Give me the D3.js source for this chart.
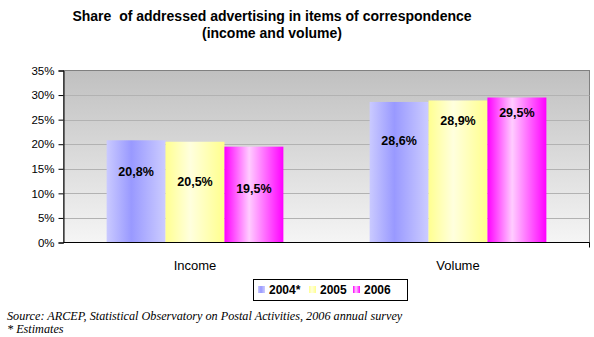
<!DOCTYPE html>
<html><head><meta charset="utf-8">
<script src="https://cdn.jsdelivr.net/npm/d3@7"></script>
<style>body{margin:0;background:#fff}svg{display:block}</style>
</head><body>
<svg id="c" width="594" height="337"></svg>
<script>
const categories = ["Income", "Volume"];
const seriesNames = ["2004*", "2005", "2006"];
const values2004 = [20.8, 28.6];
const values2005 = [20.5, 28.9];
const values2006 = [19.5, 29.5];
const valueLabels2004 = ["20,8%", "28,6%"];
const valueLabels2005 = ["20,5%", "28,9%"];
const valueLabels2006 = ["19,5%", "29,5%"];
const yTicks = [0, 5, 10, 15, 20, 25, 30, 35];
const titleLines = ["Share  of addressed advertising in items of correspondence", "(income and volume)"];
const sourceLines = ["Source: ARCEP, Statistical Observatory on Postal Activities, 2006 annual survey", "* Estimates"];

const series = [
  {name: seriesNames[0], values: values2004, labels: valueLabels2004},
  {name: seriesNames[1], values: values2005, labels: valueLabels2005},
  {name: seriesNames[2], values: values2006, labels: valueLabels2006}
];
// gradient stops per series: edge, centre, edge
const grads = [
  ["#cacaff", "#9999ff", "#ccccff"],
  ["#ffff90", "#ffffde", "#ffff8c"],
  ["#ff00ff", "#ffccff", "#ff00ff"]
];
// label vertical offsets below bar top (px), per series per category
const labelDy = [[31, 38], [39, 20], [41, 14]];

const svg = d3.select("#c");
const m = {l: 63.5, r: 589.5, t: 70.5, b: 242.5};

const x0 = d3.scaleBand().domain(categories).range([m.l, m.r]).paddingInner(0.328).paddingOuter(0.164);
const x1 = d3.scaleBand().domain(seriesNames).range([0, x0.bandwidth()]);
const y = d3.scaleLinear().domain([0, 35]).range([m.b, m.t]);

const defs = svg.append("defs");
const bg = defs.append("linearGradient").attr("id", "bg").attr("x1", 0).attr("x2", 0).attr("y1", 0).attr("y2", 1);
bg.append("stop").attr("offset", "0%").attr("stop-color", "#c0c0c0");
bg.append("stop").attr("offset", "100%").attr("stop-color", "#f5f5f5");
grads.forEach((g, i) => {
  const lg = defs.append("linearGradient").attr("id", "g" + i).attr("x1", 0).attr("x2", 1).attr("y1", 0).attr("y2", 0);
  lg.append("stop").attr("offset", "0%").attr("stop-color", g[0]);
  lg.append("stop").attr("offset", "42%").attr("stop-color", g[1]);
  lg.append("stop").attr("offset", "100%").attr("stop-color", g[2]);
});

// title
svg.append("g").selectAll("text").data(titleLines).join("text")
  .attr("x", 272).attr("y", (d, i) => 21 + i * 17)
  .attr("text-anchor", "middle")
  .style("font-family", "Liberation Sans, Arial, sans-serif")
  .style("font-weight", "bold").style("font-size", "14px")
  .style("white-space", "pre").attr("xml:space", "preserve")
  .text(d => d);

// plot background
svg.append("rect").attr("x", m.l).attr("y", m.t).attr("width", m.r - m.l).attr("height", m.b - m.t)
  .attr("fill", "url(#bg)").attr("stroke", "#808080").attr("stroke-width", 1);

// gridlines
svg.append("g").selectAll("line").data(yTicks.filter(t => t > 0 && t < 35)).join("line")
  .attr("x1", m.l).attr("x2", m.r)
  .attr("y1", d => Math.round(y(d)) + 0.5).attr("y2", d => Math.round(y(d)) + 0.5)
  .attr("stroke", "#b2b2b2").attr("stroke-width", 1);

// bars
const gBars = svg.append("g");
series.forEach((s, si) => {
  gBars.append("g").selectAll("rect").data(categories).join("rect")
    .attr("x", c => x0(c) + x1(s.name))
    .attr("width", x1.bandwidth())
    .attr("y", (c, ci) => y(s.values[ci]))
    .attr("height", (c, ci) => y(0) - y(s.values[ci]))
    .attr("fill", "url(#g" + si + ")");
  gBars.append("g").selectAll("text").data(categories).join("text")
    .attr("x", c => x0(c) + x1(s.name) + x1.bandwidth() / 2)
    .attr("y", (c, ci) => y(s.values[ci]) + labelDy[si][ci] + 5)
    .attr("text-anchor", "middle")
    .style("font-family", "Liberation Sans, Arial, sans-serif")
    .style("font-weight", "bold").style("font-size", "12.5px")
    .text((c, ci) => s.labels[ci]);
});

// y axis
const yAxis = d3.axisLeft(y).tickValues(yTicks).tickFormat(d => d + "%").tickSize(5).tickPadding(4);
const ga = svg.append("g").attr("transform", `translate(${m.l},0)`).call(yAxis);
ga.select(".domain").attr("stroke", "#000");
ga.selectAll(".tick line").attr("stroke", "#000");
ga.selectAll("text").style("font-family", "Liberation Sans, Arial, sans-serif").style("font-size", "11.5px").attr("fill", "#000");

// x axis
const xAxis = d3.axisBottom(x0).tickSize(0).tickPadding(18);
const gx = svg.append("g").attr("transform", `translate(0,${m.b})`).call(xAxis);
gx.select(".domain").attr("stroke", "#000").attr("d", `M${m.l},0H${m.r}`);
gx.selectAll("text").style("font-family", "Liberation Sans, Arial, sans-serif").style("font-size", "13px").attr("fill", "#000");
svg.append("line").attr("x1", m.r).attr("x2", m.r).attr("y1", m.b).attr("y2", m.b + 5).attr("stroke", "#000");

// legend
const lg = svg.append("g");
lg.append("rect").attr("x", 253.5).attr("y", 279.5).attr("width", 154).attr("height", 21)
  .attr("fill", "#fff").attr("stroke", "#000");
const legX = [258, 309, 353];
series.forEach((s, i) => {
  lg.append("rect").attr("x", legX[i]).attr("y", 286).attr("width", 7).attr("height", 7).attr("fill", "url(#g" + i + ")");
  lg.append("text").attr("x", legX[i] + 11).attr("y", 294)
    .style("font-family", "Liberation Sans, Arial, sans-serif")
    .style("font-weight", "bold").style("font-size", "12px").text(s.name);
});

// source
svg.append("g").selectAll("text").data(sourceLines).join("text")
  .attr("x", 7).attr("y", (d, i) => 320 + i * 13)
  .style("font-family", "Liberation Serif, Times New Roman, serif")
  .style("font-style", "italic").style("font-size", "12.2px")
  .text(d => d);
</script>
</body></html>
